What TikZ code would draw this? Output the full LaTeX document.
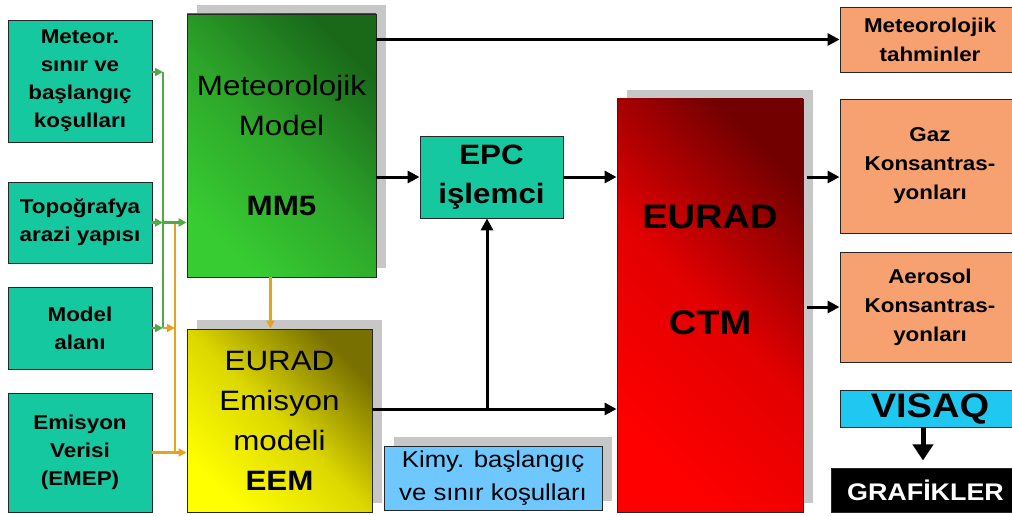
\documentclass[tikz,border=0pt]{standalone}
\usepackage{fontspec}
\setmainfont{Liberation Sans}[FakeStretch=1.12]
\usepackage{tikz}
\usetikzlibrary{calc,arrows.meta,shadows}

\definecolor{inteal}{RGB}{22,200,160}
\definecolor{outsalmon}{RGB}{247,160,112}
\definecolor{kimyblue}{RGB}{110,200,255}
\definecolor{visaqblue}{RGB}{30,200,240}
\definecolor{gbusline}{RGB}{80,170,70}
\definecolor{obusline}{RGB}{228,165,30}
\definecolor{mmlight}{RGB}{55,205,50}
\definecolor{mmmid}{RGB}{45,165,42}
\definecolor{mmdark}{RGB}{25,105,25}
\definecolor{eemlight}{RGB}{255,255,0}
\definecolor{eemmid}{RGB}{220,215,0}
\definecolor{eemdark}{RGB}{120,112,0}
\definecolor{ctmlight}{RGB}{255,0,0}
\definecolor{ctmmid}{RGB}{225,0,0}
\definecolor{ctmdark}{RGB}{115,0,0}

\begin{document}
\begin{tikzpicture}[
x=1pt, y=1pt,
box/.style={
	rectangle, draw=black!85, line width=0.9pt,
	inner sep=2pt, align=center, text=black
},
inbox/.style={box, fill=inteal, minimum width=144pt,
	font=\bfseries\fontsize{20}{28}\selectfont},
outbox/.style={box, fill=outsalmon, minimum width=180pt,
	font=\bfseries\fontsize{20}{29}\selectfont},
shadowed/.style={drop shadow={shadow xshift=10pt, shadow yshift=9pt,
	fill=black!22, opacity=1}},
bigbox/.style n args={3}{box, shadowed, left color=#1, right color=#3,
	middle color=#2, shading angle=135, font=\fontsize{28}{40}\selectfont},
flow/.style={-{Triangle[length=12pt,width=12pt]}, line width=3pt},
gline/.style={draw=gbusline, line width=2.5pt, -{Triangle[length=8pt,width=8pt]}},
oline/.style={draw=obusline, line width=2.5pt, -{Triangle[length=8pt,width=8pt]}}
]
\useasboundingbox (0,0) rectangle (1012,-516);

% inputs
\node[inbox, minimum height=122pt] (met) at (80,-81) {Meteor.\\sınır ve\\başlangıç\\koşulları};
\node[inbox, minimum height=81pt] (topo) at (80,-222.5) {Topoğrafya\\arazi yapısı};
\node[inbox, minimum height=82pt] (alan) at (80,-328) {Model\\alanı};
\node[inbox, minimum height=119pt] (emis) at (80,-452.5) {Emisyon\\Verisi\\(EMEP)};

% models
\node[bigbox={mmlight}{mmmid}{mmdark}, minimum width=189pt, minimum height=263pt] (mm5) at (281.5,-145.5)
	{Meteorolojik\\Model\\[40pt]\textbf{MM5}};
\node[bigbox={eemlight}{eemmid}{eemdark}, minimum width=185pt, minimum height=183pt] (eem) at (279.5,-420.5)
	{EURAD\\Emisyon\\modeli\\\textbf{EEM}};
\node[box, fill=inteal, minimum width=143pt, minimum height=82pt,
	font=\bfseries\fontsize{28}{39}\selectfont] (epc) at (491.5,-177) {EPC\\işlemci};
\node[bigbox={ctmlight}{ctmmid}{ctmdark}, minimum width=186pt, minimum height=413pt] (ctm) at (710,-305.5) {};
\node[font=\bfseries\fontsize{34}{106}\selectfont, align=center] (ctmtext) at (710,-270) {EURAD\\CTM};
\node[box, shadowed, fill=kimyblue, minimum width=218pt, minimum height=64pt,
	font=\fontsize{23}{33}\selectfont] (kimy) at (493,-478) {Kimy. başlangıç\\ve sınır koşulları};

% outputs
\node[outbox, minimum height=65pt] (tah) at (930,-39.5) {Meteorolojik\\tahminler};
\node[outbox, minimum height=134pt] (gaz) at (930,-166) {Gaz\\Konsantras-\\yonları};
\node[outbox, minimum height=110pt] (aero) at (930,-307) {Aerosol\\Konsantras-\\yonları};
\node[box, fill=visaqblue, minimum width=180pt, minimum height=37pt,
	font=\bfseries\fontsize{34}{34}\selectfont] (visaq) at (930,-408.5) {VISAQ};
\node[box, fill=black, text=white, minimum width=189pt, minimum height=44pt,
	font=\bfseries\fontsize{24}{24}\selectfont] (graf) at (925.5,-490) {GRAFİKLER};

% input buses
\coordinate (gbus) at (163,-218);
\coordinate (obus) at (175,-218);
\draw[gline,-] ([yshift=9pt]met.east -| gbus) -- (gbus |- alan.east);
\draw[oline,-] (obus |- topo.east) -- (obus |- emis.east);
\draw[gline] ([yshift=9pt]met.east) -- ([yshift=9pt]met.east -| gbus);
\foreach \n in {topo,alan}
{
	\draw[gline] (\n.east) -- (gbus |- \n.east);
}
\draw[gline] (gbus |- topo.east) -- (mm5.west |- topo.east);
\draw[oline] (alan.east -| gbus) -- (obus |- alan.east);
\draw[oline] (emis.east) -- (eem.west |- emis.east);
\draw[oline] ([xshift=-11pt]mm5.south) -- ([xshift=-11pt]mm5.south |- eem.north);

% main flow
\coordinate (split) at (487,-409);
\draw[flow] (mm5.east |- tah.west) -- (tah.west);
\draw[flow] (mm5.east |- epc.west) -- (epc.west);
\draw[flow] (epc.east) -- (ctm.west |- epc.east);
\draw[flow] (eem.east |- split) -- (ctm.west |- split);
\draw[flow] (split) -- (split |- epc.south);
\draw[flow] ([xshift=4pt]ctm.east |- epc.east) -- (gaz.west |- epc.east);
\draw[flow] ([xshift=4pt]ctm.east |- aero.west) -- (aero.west);
\draw[-{Triangle[length=16pt,width=20pt]}, line width=5pt] ([xshift=-7pt]visaq.south) -- ++(0,-33);
\end{tikzpicture}
\end{document}
